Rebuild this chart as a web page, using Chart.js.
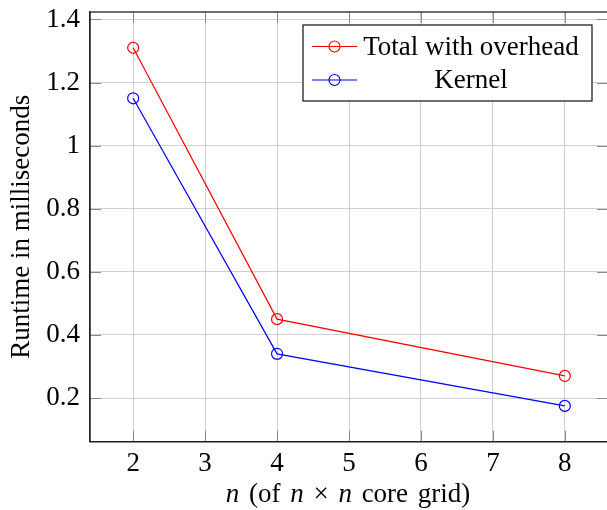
<!DOCTYPE html>
<html><head><meta charset="utf-8">
<script src="https://cdn.jsdelivr.net/npm/chart.js@4"></script>
<style>html,body{margin:0;padding:0;overflow:hidden;background:#fff}canvas{display:block}</style>
</head><body><canvas id="c" width="609" height="510" style="width:609px;height:510px"></canvas>
<script>
const nValues = [2, 4, 8];
const totalWithOverhead = [1.31, 0.45, 0.27];
const kernel = [1.15, 0.34, 0.175];
const xTicks = [2, 3, 4, 5, 6, 7, 8];
const yTicks = [0.2, 0.4, 0.6, 0.8, 1, 1.2, 1.4];
const seriesLabels = ['Total with overhead', 'Kernel'];
const seriesColors = ['#ff0000', '#0000ff'];
const yTitle = 'Runtime in milliseconds';
const xTitleParts = [['n', true], [' (of ', false], ['n', true], [' × ', false], ['n', true], [' core grid)', false]];

const FONT = '"Liberation Serif"';
const FS = 27;

const extras = {
  id: 'extras',
  afterDatasetsDraw(chart) {
    const ctx = chart.ctx, a = chart.chartArea;
    const xs = chart.scales.x, ys = chart.scales.y;
    ctx.save();
    ctx.strokeStyle = '#8a8a8a';
    ctx.lineWidth = 1;
    const tl = 11;
    yTicks.forEach(v => {
      const y = Math.round(ys.getPixelForValue(v)) + 0.5;
      ctx.beginPath(); ctx.moveTo(a.left, y); ctx.lineTo(a.left + tl, y); ctx.stroke();
      ctx.beginPath(); ctx.moveTo(a.right, y); ctx.lineTo(a.right - tl, y); ctx.stroke();
    });
    xTicks.forEach(v => {
      const x = Math.round(xs.getPixelForValue(v)) + 0.5;
      ctx.beginPath(); ctx.moveTo(x, a.bottom); ctx.lineTo(x, a.bottom - tl); ctx.stroke();
      ctx.beginPath(); ctx.moveTo(x, a.top); ctx.lineTo(x, a.top + tl); ctx.stroke();
    });
    ctx.strokeStyle = '#222';
    ctx.lineWidth = 1.3;
    ctx.strokeRect(a.left, a.top, a.right - a.left, a.bottom - a.top);
    ctx.restore();
  },
  afterDraw(chart) {
    const ctx = chart.ctx, a = chart.chartArea;
    ctx.save();
    const bx = 303, by = 25, bw = 289, bh = 76;
    ctx.fillStyle = '#fff';
    ctx.fillRect(bx, by, bw, bh);
    ctx.strokeStyle = '#222';
    ctx.lineWidth = 1.3;
    ctx.strokeRect(bx, by, bw, bh);
    const rows = [46.5, 80];
    chart.data.datasets.forEach((ds, i) => {
      const y = rows[i];
      ctx.strokeStyle = ds.borderColor;
      ctx.lineWidth = 1.2;
      ctx.beginPath(); ctx.moveTo(312, y); ctx.lineTo(357, y); ctx.stroke();
      ctx.beginPath(); ctx.arc(334.5, y, 5.5, 0, Math.PI * 2); ctx.stroke();
      ctx.fillStyle = '#000';
      ctx.font = FS + 'px ' + FONT;
      ctx.textAlign = 'center';
      ctx.textBaseline = 'middle';
      ctx.fillText(ds.label, 471, y + 1);
    });
    const fUp = FS + 'px ' + FONT;
    const fIt = 'italic ' + FS + 'px ' + FONT;
    const gap = 3;
    const spaces = s => (s.match(/ /g) || []).length;
    const w = (t, it) => { ctx.font = it ? fIt : fUp; return ctx.measureText(t).width + spaces(t) * gap; };
    let total = 0;
    xTitleParts.forEach(([t, it]) => { total += w(t, it); });
    let x = 348 - total / 2;
    ctx.fillStyle = '#000';
    ctx.textAlign = 'left';
    ctx.textBaseline = 'alphabetic';
    xTitleParts.forEach(([t, it]) => {
      // draw word by word so spaces get a little extra width (LaTeX-like spacing)
      const pieces = t.split(' ');
      pieces.forEach((p, k) => {
        ctx.font = it ? fIt : fUp;
        if (p) { ctx.fillText(p, x, 502); x += ctx.measureText(p).width; }
        if (k < pieces.length - 1) { x += ctx.measureText(' ').width + gap; }
      });
    });
    ctx.restore();
  }
};

new Chart(document.getElementById('c'), {
  type: 'line',
  data: {
    datasets: [
      {
        label: seriesLabels[0],
        data: nValues.map((n, i) => ({ x: n, y: totalWithOverhead[i] })),
        borderColor: seriesColors[0], backgroundColor: 'rgba(0,0,0,0)',
        borderWidth: 1.2, pointRadius: 5.5, pointBorderWidth: 1.2,
        pointBackgroundColor: 'rgba(0,0,0,0)', pointBorderColor: seriesColors[0],
        tension: 0, fill: false
      },
      {
        label: seriesLabels[1],
        data: nValues.map((n, i) => ({ x: n, y: kernel[i] })),
        borderColor: seriesColors[1], backgroundColor: 'rgba(0,0,0,0)',
        borderWidth: 1.2, pointRadius: 5.5, pointBorderWidth: 1.2,
        pointBackgroundColor: 'rgba(0,0,0,0)', pointBorderColor: seriesColors[1],
        tension: 0, fill: false
      }
    ]
  },
  options: {
    responsive: false,
    animation: false,
    devicePixelRatio: 1,
    layout: { autoPadding: false, padding: { left: 0, top: 12, right: 1, bottom: 0 } },
    plugins: { legend: { display: false }, tooltip: { enabled: false } },
    scales: {
      x: {
        type: 'linear', min: 1.4, max: 8.6,
        afterBuildTicks: s => { s.ticks = xTicks.map(v => ({ value: v })); },
        afterFit: s => { s.height = 68.3; s.paddingLeft = 0; s.paddingRight = 0; },
        ticks: { color: '#000', font: { family: FONT, size: FS }, padding: 6, maxRotation: 0, autoSkip: false,
                 callback: v => String(v) },
        grid: { color: '#cfcfcf', lineWidth: 1, drawTicks: false },
        border: { display: true, color: '#222', width: 1.3 },
        title: { display: false }
      },
      y: {
        type: 'linear', min: 0.0615, max: 1.4235,
        afterBuildTicks: s => { s.ticks = yTicks.map(v => ({ value: v })); },
        afterFit: s => { s.width = 90; s.paddingTop = 0; s.paddingBottom = 0; },
        ticks: { color: '#000', font: { family: FONT, size: FS }, padding: 10, autoSkip: false,
                 callback: v => String(Math.round(v * 10) / 10) },
        grid: { color: '#cfcfcf', lineWidth: 1, drawTicks: false },
        border: { display: true, color: '#222', width: 1.3 },
        title: { display: true, text: yTitle, color: '#000', font: { family: FONT, size: FS }, padding: { top: 6, bottom: 0 } }
      }
    }
  },
  plugins: [extras]
});
</script>
</body></html>
